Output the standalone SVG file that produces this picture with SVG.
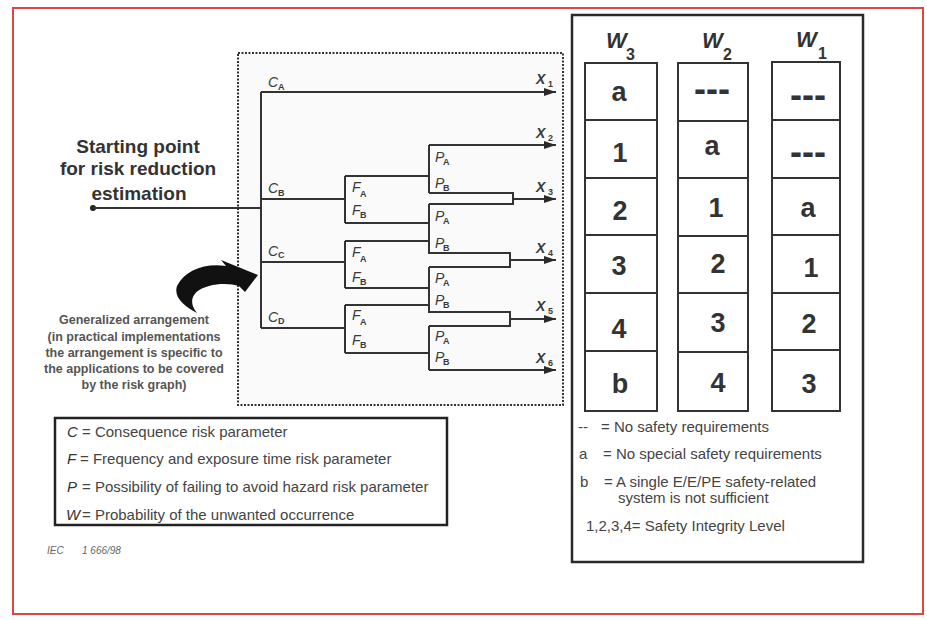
<svg xmlns="http://www.w3.org/2000/svg" width="927" height="620" viewBox="0 0 927 620">
<defs>
<marker id="ah" markerUnits="userSpaceOnUse" markerWidth="13" markerHeight="8" refX="12" refY="4" orient="auto">
<path d="M0,0 L12,4 L0,8 Z" fill="#2a2a2a"/>
</marker>
<style>
.ln{fill:none;stroke:#333;stroke-width:2}
.arr{fill:none;stroke:#333;stroke-width:2;marker-end:url(#ah)}
.lb{font-family:"Liberation Sans",Arial,sans-serif;font-style:italic;font-size:14px;fill:#3a3a3a}
.sb{font-family:"Liberation Sans",Arial,sans-serif;font-weight:bold;font-size:9px;fill:#3a3a3a}
.xl{font-family:"Liberation Sans",Arial,sans-serif;font-style:italic;font-weight:bold;font-size:14px;fill:#3a3a3a}
.st{font-family:"Liberation Sans",Arial,sans-serif;font-weight:bold;font-size:19px;fill:#333;text-anchor:middle}
.ga{font-family:"Liberation Sans",Arial,sans-serif;font-weight:bold;font-size:12.5px;fill:#555;text-anchor:middle}
.lg{font-family:"Liberation Sans",Arial,sans-serif;font-size:15px;fill:#444}
.lgi{font-family:"Liberation Sans",Arial,sans-serif;font-size:15px;font-style:italic;fill:#333}
.cell{fill:#fff;stroke:#333;stroke-width:2}
.cv{font-family:"Liberation Sans",Arial,sans-serif;font-weight:bold;font-size:27px;fill:#333;text-anchor:middle}
.dash{font-family:"Liberation Sans",Arial,sans-serif;font-weight:bold;font-size:36px;fill:#333;text-anchor:middle}
.wh{font-family:"Liberation Sans",Arial,sans-serif;font-style:italic;font-weight:bold;font-size:22px;fill:#333}
.ws{font-family:"Liberation Sans",Arial,sans-serif;font-weight:bold;font-size:16px;fill:#333}
</style>
</defs>
<rect x="0" y="0" width="927" height="620" fill="#fff"/>
<rect id="frame" x="13" y="8" width="910" height="606" fill="none" stroke="#dc4646" stroke-width="2"/>

<g id="tree-box">
<rect x="238" y="53" width="325" height="352" fill="#fafafa" stroke="#333" stroke-width="2" stroke-dasharray="2 1.5"/>
</g>

<g id="start">
<text class="st" x="138" y="153">Starting point</text>
<text class="st" x="138" y="175">for risk reduction</text>
<text class="st" x="139" y="200">estimation</text>
<circle cx="93" cy="208" r="3" fill="#222"/>
</g>

<g id="connectors">
<path class="ln" d="M93,208 H261"/>
<path class="ln" d="M261,92 V328"/>
<path class="arr" d="M261,92 H556"/>
<path class="ln" d="M261,199 H345 M345,176 V223 M345,176 H429 M345,223 H429"/>
<path class="ln" d="M429,145 V193 M429,193 H513 V204 H429"/>
<path class="arr" d="M429,145 H556"/>
<path class="arr" d="M513,199 H556"/>
<path class="ln" d="M429,204 V253 H510 V267 H429"/>
<path class="arr" d="M510,260 H556"/>
<path class="ln" d="M261,262 H345 M345,241 V288 M345,241 H429 M345,288 H429"/>
<path class="ln" d="M429,267 V312 H510 V326 H429"/>
<path class="arr" d="M510,319 H556"/>
<path class="ln" d="M261,328 H345 M345,305 V353 M345,305 H429 M345,353 H429"/>
<path class="ln" d="M429,326 V370"/>
<path class="arr" d="M429,370 H556"/>
</g>

<g id="c-labels">
<text class="lb" x="268" y="87">C</text><text class="sb" x="278" y="90">A</text>
<text class="lb" x="268" y="193">C</text><text class="sb" x="278" y="196">B</text>
<text class="lb" x="268" y="256">C</text><text class="sb" x="278" y="258">C</text>
<text class="lb" x="268" y="322">C</text><text class="sb" x="278" y="324">D</text>
</g>
<g id="f-labels">
<text class="lb" x="352" y="192">F</text><text class="sb" x="360" y="197">A</text>
<text class="lb" x="352" y="215">F</text><text class="sb" x="360" y="218">B</text>
<text class="lb" x="352" y="257">F</text><text class="sb" x="360" y="262">A</text>
<text class="lb" x="352" y="282">F</text><text class="sb" x="360" y="285">B</text>
<text class="lb" x="352" y="320">F</text><text class="sb" x="360" y="325">A</text>
<text class="lb" x="352" y="345">F</text><text class="sb" x="360" y="348">B</text>
</g>
<g id="p-labels">
<text class="lb" x="435" y="162">P</text><text class="sb" x="443" y="165">A</text>
<text class="lb" x="435" y="188">P</text><text class="sb" x="443" y="191">B</text>
<text class="lb" x="435" y="221">P</text><text class="sb" x="443" y="224">A</text>
<text class="lb" x="435" y="248">P</text><text class="sb" x="443" y="251">B</text>
<text class="lb" x="435" y="283">P</text><text class="sb" x="443" y="286">A</text>
<text class="lb" x="435" y="305">P</text><text class="sb" x="443" y="308">B</text>
<text class="lb" x="435" y="341">P</text><text class="sb" x="443" y="344">A</text>
<text class="lb" x="435" y="362">P</text><text class="sb" x="443" y="365">B</text>
</g>
<g id="x-labels">
<text class="xl" x="536" y="84">X</text><text class="sb" x="548" y="87">1</text>
<text class="xl" x="536" y="138">X</text><text class="sb" x="548" y="141">2</text>
<text class="xl" x="536" y="192">X</text><text class="sb" x="548" y="195">3</text>
<text class="xl" x="536" y="253">X</text><text class="sb" x="548" y="256">4</text>
<text class="xl" x="536" y="311">X</text><text class="sb" x="548" y="314">5</text>
<text class="xl" x="536" y="363">X</text><text class="sb" x="548" y="366">6</text>
</g>

<g id="big-arrow">
<path d="M197,313 C187,301 193,290 209,286 C220,283 232,284 239,286 L245,292 L258,275 L221,260 L226,266 C205,263 185,270 177,286 C173,298 186,307 197,313 Z" fill="#111"/>
</g>

<g id="generalized-note">
<text class="ga" x="134" y="324">Generalized arrangement</text>
<text class="ga" x="134" y="341">(in practical implementations</text>
<text class="ga" x="134" y="357">the arrangement is specific to</text>
<text class="ga" x="134" y="373">the applications to be covered</text>
<text class="ga" x="134" y="389">by the risk graph)</text>
</g>

<g id="legend">
<rect x="55" y="418" width="392" height="107" fill="#fff" stroke="#222" stroke-width="2.5"/>
<text class="lgi" x="67" y="437">C</text><text class="lg" x="82" y="437">= Consequence risk parameter</text>
<text class="lgi" x="67" y="464">F</text><text class="lg" x="80" y="464">= Frequency and exposure time risk parameter</text>
<text class="lgi" x="67" y="492">P</text><text class="lg" x="82" y="492">= Possibility of failing to avoid hazard risk parameter</text>
<text class="lgi" x="66" y="520">W</text><text class="lg" x="82" y="520">= Probability of the unwanted occurrence</text>
</g>

<g id="iec-ref">
<text x="47" y="554" font-family="Liberation Sans, Arial, sans-serif" font-size="10" font-style="italic" fill="#666">IEC</text>
<text x="82" y="554" font-family="Liberation Sans, Arial, sans-serif" font-size="10" font-style="italic" fill="#666">1 666/98</text>
</g>

<g id="table">
<rect x="572" y="15" width="291" height="547" fill="#fff" stroke="#2a2a2a" stroke-width="2.5"/>
<g id="col-w3">
<text class="wh" x="606" y="48">W</text><text class="ws" x="626" y="60">3</text>
<rect class="cell" x="585" y="63" width="72" height="348"/>
<path class="ln" d="M585,120 H657 M585,178 H657 M585,235 H657 M585,293 H657 M585,351 H657"/>
<text class="cv" x="619" y="101">a</text>
<text class="cv" x="620" y="162">1</text>
<text class="cv" x="620" y="220">2</text>
<text class="cv" x="619" y="275">3</text>
<text class="cv" x="619" y="338">4</text>
<text class="cv" x="620" y="393">b</text>
</g>
<g id="col-w2">
<text class="wh" x="702" y="48">W</text><text class="ws" x="723" y="60">2</text>
<rect class="cell" x="678" y="63" width="70" height="348"/>
<path class="ln" d="M678,121 H748 M678,178 H748 M678,236 H748 M678,293 H748 M678,352 H748"/>
<text class="dash" x="712" y="101">---</text>
<text class="cv" x="712" y="155">a</text>
<text class="cv" x="716" y="217">1</text>
<text class="cv" x="718" y="273">2</text>
<text class="cv" x="718" y="332">3</text>
<text class="cv" x="718" y="392">4</text>
</g>
<g id="col-w1">
<text class="wh" x="796" y="47">W</text><text class="ws" x="818" y="59">1</text>
<rect class="cell" x="772" y="62" width="68" height="349"/>
<path class="ln" d="M772,120 H840 M772,178 H840 M772,235 H840 M772,293 H840 M772,350 H840"/>
<text class="dash" x="808" y="107">---</text>
<text class="dash" x="808" y="164">---</text>
<text class="cv" x="808" y="217">a</text>
<text class="cv" x="811" y="277">1</text>
<text class="cv" x="809" y="333">2</text>
<text class="cv" x="809" y="393">3</text>
</g>
<g id="table-legend">
<text class="lg" x="578" y="432">--</text><text class="lg" x="601" y="432">= No safety requirements</text>
<text class="lg" x="579" y="459">a</text><text class="lg" x="603" y="459">= No special safety requirements</text>
<text class="lg" x="580" y="487">b</text><text class="lg" x="604" y="487">= A single E/E/PE safety-related</text>
<text class="lg" x="618" y="503">system is not sufficient</text>
<text class="lg" x="586" y="531">1,2,3,4= Safety Integrity Level</text>
</g>
</g>
</svg>
